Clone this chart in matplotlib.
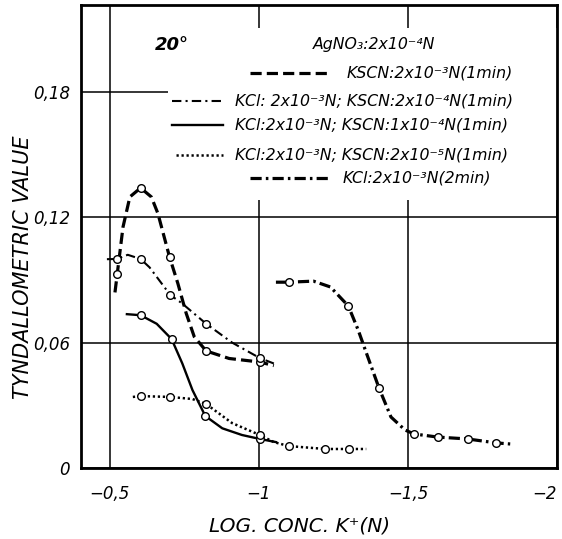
import matplotlib.pyplot as plt
from matplotlib.patches import Rectangle

# curves (log conc. K+, tyndallometric value)
kscn_x = [-0.517, -0.544, -0.567, -0.603, -0.639, -0.661, -0.70, -0.728, -0.756, -0.783, -0.823, -0.90, -1.003, -1.05]
kscn_y = [0.084, 0.1153, 0.1297, 0.134, 0.1297, 0.1218, 0.101, 0.0883, 0.074, 0.0628, 0.056, 0.0524, 0.0507, 0.049]
kscn_px = [-0.523, -0.603, -0.70, -0.823, -1.003]
kscn_py = [0.0927, 0.134, 0.101, 0.056, 0.0507]

mix4_x = [-0.49, -0.523, -0.56, -0.603, -0.633, -0.703, -0.74, -0.823, -0.91, -1.003, -1.05]
mix4_y = [0.0999, 0.100, 0.102, 0.100, 0.096, 0.0827, 0.079, 0.069, 0.060, 0.0526, 0.050]
mix4_px = [-0.523, -0.603, -0.703, -0.823, -1.003]
mix4_py = [0.100, 0.100, 0.0827, 0.069, 0.0526]

mix1_x = [-0.557, -0.603, -0.657, -0.707, -0.743, -0.777, -0.82, -0.877, -0.943, -1.003, -1.057]
mix1_y = [0.0736, 0.0731, 0.069, 0.0617, 0.050, 0.0373, 0.0249, 0.019, 0.0158, 0.0139, 0.0124]
mix1_px = [-0.603, -0.707, -0.82, -1.003]
mix1_py = [0.0731, 0.0617, 0.0249, 0.0139]

mix5_x = [-0.577, -0.603, -0.703, -0.777, -0.823, -0.91, -1.003, -1.05, -1.10, -1.223, -1.303, -1.36]
mix5_y = [0.034, 0.0344, 0.034, 0.033, 0.0306, 0.0215, 0.0158, 0.0124, 0.0105, 0.0091, 0.0091, 0.0091]
mix5_px = [-0.603, -0.703, -0.823, -1.003, -1.10, -1.223, -1.303]
mix5_py = [0.0344, 0.034, 0.0306, 0.0158, 0.0105, 0.0091, 0.0091]

kcl_x = [-1.057, -1.10, -1.183, -1.24, -1.30, -1.333, -1.357, -1.403, -1.443, -1.49, -1.52, -1.60, -1.70, -1.797, -1.843]
kcl_y = [0.0889, 0.0889, 0.0894, 0.0866, 0.0775, 0.066, 0.0564, 0.0382, 0.0244, 0.0182, 0.0163, 0.0148, 0.0139, 0.012, 0.0115]
kcl_px = [-1.10, -1.30, -1.403, -1.52, -1.60, -1.70, -1.797]
kcl_py = [0.0889, 0.0775, 0.0382, 0.0163, 0.0148, 0.0139, 0.012]

x_ticks = [-0.5, -1, -1.5, -2]
x_labels = ["\u22120,5", "\u22121", "\u22121,5", "\u22122"]
y_ticks = [0, 0.06, 0.12, 0.18]
y_labels = ["0", "0,06", "0,12", "0,18"]

labels = [
    "KSCN:2x10\u207b\u00b3N(1min)",
    "KCl: 2x10\u207b\u00b3N; KSCN:2x10\u207b\u2074N(1min)",
    "KCl:2x10\u207b\u00b3N; KSCN:1x10\u207b\u2074N(1min)",
    "KCl:2x10\u207b\u00b3N; KSCN:2x10\u207b\u2075N(1min)",
    "KCl:2x10\u207b\u00b3N(2min)",
]

styles = [
    dict(lw=2.3, ls=(0, (3.5, 1.6))),
    dict(lw=1.5, ls=(0, (4.5, 2, 1, 2))),
    dict(lw=1.7, ls='-'),
    dict(lw=1.8, ls=(0, (0.9, 1.1))),
    dict(lw=2.3, ls=(0, (3.5, 1.3, 0.8, 1.3))),
]

fig = plt.figure(figsize=(5.62, 5.39), dpi=100)
ax = fig.add_axes([0.1441, 0.1317, 0.847, 0.859])

curves = [(kscn_x, kscn_y), (mix4_x, mix4_y), (mix1_x, mix1_y), (mix5_x, mix5_y), (kcl_x, kcl_y)]
marks = [(kscn_px, kscn_py), (mix4_px, mix4_py), (mix1_px, mix1_py), (mix5_px, mix5_py), (kcl_px, kcl_py)]
for (cx, cy), (mx, my), st in zip(curves, marks, styles):
    ax.plot(cx, cy, color='black', zorder=4, **st)
    ax.plot(mx, my, 'o', ms=5.5, mfc='white', mec='black', mew=1, zorder=5)

ax.set_xlim(-0.403, -1.99)
ax.set_ylim(0, 0.2215)
ax.set_xticks(x_ticks)
ax.set_xticklabels(x_labels)
ax.set_yticks(y_ticks)
ax.set_yticklabels(y_labels)
ax.tick_params(length=0, labelsize=12)
ax.tick_params(axis='x', pad=12)
ax.tick_params(axis='y', pad=8)
for lab in ax.get_xticklabels() + ax.get_yticklabels():
    lab.set_fontstyle('italic')
ax.get_xticklabels()[-1].set_horizontalalignment('right')
ax.grid(True, color='black', lw=1.1)
ax.set_axisbelow(True)
for s in ax.spines.values():
    s.set_linewidth(2)

ax.set_xlabel("LOG. CONC. K\u207a(N)", fontsize=14.5, fontstyle='italic')
ax.xaxis.set_label_coords(0.46, -0.105)
ax.set_ylabel("TYNDALLOMETRIC VALUE", fontsize=15, fontstyle='italic')
ax.yaxis.set_label_coords(-0.101, 0.434)

# white panel for the legend (hides the grid behind it)
ax.add_patch(Rectangle((0.183, 0.579), 0.817, 0.371, transform=ax.transAxes,
                       facecolor='white', edgecolor='none', zorder=2))

ax.text(0.155, 0.914, "20\u00b0", transform=ax.transAxes, fontsize=13,
        fontstyle='italic', fontweight='bold', va='center', zorder=6)
ax.text(0.487, 0.914, "AgNO\u2083:2x10\u207b\u2074N", transform=ax.transAxes, fontsize=11.3,
        fontstyle='italic', va='center', zorder=6)

handle_x = [(0.355, 0.519), (0.191, 0.298), (0.191, 0.298), (0.2, 0.298), (0.355, 0.519)]
text_x = [0.559, 0.324, 0.324, 0.324, 0.55]
rows_y = [0.853, 0.793, 0.741, 0.676, 0.626]
for (h0, h1), tx, ry, lab, st in zip(handle_x, text_x, rows_y, labels, styles):
    ax.plot([h0, h1], [ry, ry], color='black', transform=ax.transAxes, zorder=6, **st)
    ax.text(tx, ry, lab, transform=ax.transAxes, fontsize=11.3, fontstyle='italic',
            va='center', zorder=6)

fig.savefig("out.png", dpi=100)
